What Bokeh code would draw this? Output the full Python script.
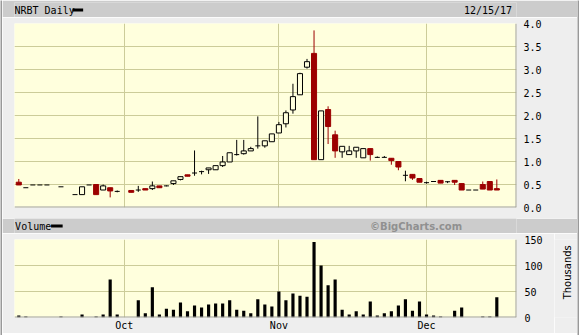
from math import pi
import numpy as np
import pandas as pd
from bokeh.plotting import figure
from bokeh.layouts import column, row
from bokeh.models import Range1d, FixedTicker, PrintfTickFormatter, Span, Label, Grid, ColumnDataSource
from bokeh.embed import file_html
from bokeh.resources import INLINE

# ---------------- data ----------------
chart_title = "NRBT Daily"
end_date_label = "12/15/17"
volume_title = "Volume"
credit = "\u00a9BigCharts.com"
volume_unit = "Thousands"

holidays = ["2017-11-23"]
dates = [d.strftime("%Y-%m-%d") for d in pd.bdate_range("2017-09-11", "2017-12-15")
         if d.strftime("%Y-%m-%d") not in holidays]

opens = [0.55, 0.43, 0.49, 0.49, 0.49, None, 0.45, None, 0.28, 0.28,
         0.49, 0.50, 0.38, 0.43, 0.35, None, 0.37, 0.38, 0.41, 0.41,
         0.47, 0.47, 0.52, 0.61, 0.71, 0.75, 0.78, 0.82, 0.82, 0.91,
         0.99, 1.15, 1.17, 1.23, 1.34, 1.34, 1.43, 1.62, 1.82, 2.12,
         2.45, 3.05, 3.35, 1.04, 2.13, 1.58, 1.21, 1.15, 1.23, 1.08,
         1.28, 1.09, 1.09, 1.07, 1.00, 0.70, 0.72, 0.63, 0.54, 0.565,
         0.59, 0.56, 0.59, 0.52, 0.38, 0.38, 0.50, 0.565, 0.41]
highs = [0.62, 0.43, 0.49, 0.49, 0.49, None, 0.45, None, 0.28, 0.45,
         0.49, 0.50, 0.50, 0.43, 0.37, None, 0.37, 0.47, 0.41, 0.565,
         0.47, 0.48, 0.58, 0.67, 0.71, 1.24, 0.80, 0.86, 0.91, 1.12,
         1.19, 1.47, 1.47, 1.32, 1.98, 1.45, 1.60, 1.86, 2.11, 2.69,
         2.93, 3.23, 3.85, 2.10, 2.20, 1.67, 1.33, 1.34, 1.31, 1.28,
         1.28, 1.11, 1.12, 1.07, 1.00, 0.80, 0.72, 0.63, 0.56, 0.575,
         0.59, 0.57, 0.59, 0.52, 0.38, 0.38, 0.565, 0.565, 0.61]
lows = [0.49, 0.43, 0.49, 0.49, 0.49, None, 0.45, None, 0.28, 0.28,
        0.49, 0.28, 0.38, 0.22, 0.33, None, 0.33, 0.34, 0.38, 0.38,
        0.43, 0.46, 0.49, 0.59, 0.68, 0.69, 0.72, 0.73, 0.82, 0.88,
        0.99, 1.13, 1.15, 1.23, 1.28, 1.30, 1.43, 1.62, 1.74, 2.04,
        2.45, 3.02, 1.04, 1.04, 1.38, 1.08, 1.08, 1.15, 1.08, 1.08,
        1.02, 1.08, 1.09, 0.93, 0.81, 0.57, 0.60, 0.55, 0.52, 0.555,
        0.53, 0.53, 0.49, 0.38, 0.38, 0.38, 0.40, 0.38, 0.38]
closes = [0.49, 0.43, 0.49, 0.49, 0.49, None, 0.45, None, 0.28, 0.45,
          0.49, 0.28, 0.47, 0.36, 0.35, None, 0.33, 0.38, 0.38, 0.47,
          0.43, 0.47, 0.58, 0.67, 0.68, 0.75, 0.78, 0.86, 0.91, 0.99,
          1.19, 1.15, 1.23, 1.28, 1.34, 1.45, 1.60, 1.80, 2.06, 2.41,
          2.91, 3.17, 1.04, 2.10, 1.76, 1.23, 1.33, 1.23, 1.31, 1.28,
          1.15, 1.09, 1.09, 1.02, 0.88, 0.70, 0.64, 0.55, 0.54, 0.565,
          0.53, 0.56, 0.55, 0.38, 0.38, 0.38, 0.40, 0.38, 0.38]
volumes_k = [4, 2, 0, 0, 0, 0, 2, 0, 0, 6,
             0, 2, 6, 73, 6, 0, 0, 33, 8, 58,
             6, 17, 15, 29, 12, 23, 19, 25, 27, 27,
             33, 15, 13, 8, 35, 25, 21, 50, 33, 46,
             42, 40, 145, 100, 62, 73, 15, 6, 12, 6,
             31, 4, 8, 12, 23, 35, 13, 31, 6, 4,
             2, 0, 13, 19, 0, 0, 2, 2, 39]

price_ticks = [0.0, 0.5, 1.0, 1.5, 2.0, 2.5, 3.0, 3.5, 4.0]
volume_ticks = [0, 50, 100, 150]
month_labels = ["Oct", "Nov", "Dec"]

# ---------------- styles ----------------
W = 579
B = 2                    # outer frame thickness
IW = W - 2 * B           # inner width
OUT_BG = "#eeeeee"
BAR_BG = "#cccccc"
FRAME_C = "#999999"
PLOT_BG = "#ffffdd"
GRID_C = "#cccc99"
EDGE_C = "#a0a0a0"
RED = "#9c0000"
MONO = "DejaVu Sans Mono"
SANS = "DejaVu Sans"

n = len(dates)
idx = np.arange(n, dtype=float)
O = np.array(opens, dtype=float)
H = np.array(highs, dtype=float)
L = np.array(lows, dtype=float)
C = np.array(closes, dtype=float)
V = np.array(volumes_k, dtype=float)
valid = ~np.isnan(O)
up = valid & (C > O)
down = valid & (C < O)
flat = valid & (C == O)

month_idx = [i for i in range(1, n) if dates[i][5:7] != dates[i - 1][5:7]]

x_range = Range1d(-0.61, n + 1.8)


def blank(w, h, color):
    f = figure(width=w, height=h, x_range=Range1d(0, 1), y_range=Range1d(0, 1),
               toolbar_location=None, output_backend="svg", title=None,
               x_axis_location=None, y_axis_location=None,
               min_border_left=0, min_border_right=0, min_border_top=0, min_border_bottom=0)
    f.background_fill_color = color
    f.border_fill_color = color
    f.outline_line_color = None
    f.xgrid.visible = False
    f.ygrid.visible = False
    return f


def title_bar(h, top):
    # frame: canvas x 14..577, 15 px tall; whole figure painted as the grey bar
    t = figure(width=IW, height=h, x_range=Range1d(0, 563), y_range=Range1d(15, 0),
               toolbar_location=None, output_backend="svg", title=None,
               x_axis_location=None, y_axis_location=None,
               min_border_left=14 - B, min_border_right=0, min_border_top=top, min_border_bottom=0)
    t.background_fill_color = BAR_BG
    t.border_fill_color = BAR_BG
    t.outline_line_color = None
    t.xgrid.visible = False
    t.ygrid.visible = False
    return t


def panel(w, h, yr, top, bottom, right, with_xaxis):
    f = figure(width=w, height=h, x_range=x_range, y_range=yr,
               toolbar_location=None, output_backend="svg", title=None,
               x_axis_location="below" if with_xaxis else None, y_axis_location="right",
               min_border_left=14 - B, min_border_right=right, min_border_top=top,
               min_border_bottom=bottom)
    f.background_fill_color = PLOT_BG
    f.border_fill_color = OUT_BG
    f.outline_line_color = None
    f.xgrid.visible = False
    f.add_layout(Grid(dimension=0, ticker=FixedTicker(ticks=month_idx), grid_line_color=GRID_C))
    f.ygrid.grid_line_color = GRID_C
    ax = f.yaxis[0]
    ax.axis_line_color = None
    ax.major_tick_line_color = None
    ax.minor_tick_line_color = None
    ax.major_tick_out = 0
    ax.major_tick_in = 0
    ax.major_label_standoff = 7
    ax.major_label_text_font = MONO
    ax.major_label_text_font_size = "10px"
    ax.major_label_text_color = "black"
    f.add_layout(Span(location=0, dimension="width", line_color=EDGE_C, line_width=2))
    f.add_layout(Span(location=x_range.end, dimension="height", line_color=EDGE_C, line_width=2))
    return f


# ---- title bar 1 (y 0..17, grey bar 2..17) ----
t1 = title_bar(17, 2)
t1.add_layout(Label(x=0, y=7.7, text=chart_title, text_baseline="middle",
                    text_font=MONO, text_font_size="10px", text_color="black"))
t1.quad(left=[65], right=[77], top=[6], bottom=[9], fill_color="black", line_color=None)
t1.add_layout(Label(x=558, y=7.7, text=end_date_label, text_baseline="middle", text_align="right",
                    text_font=MONO, text_font_size="10px", text_color="black"))

# ---- price panel (y 17..218, frame 23..207) ----
p = panel(IW, 201, Range1d(0, 4.0), 6, 11, (W - B) - 516, False)
p.yaxis[0].ticker = FixedTicker(ticks=price_ticks)
p.yaxis[0].formatter = PrintfTickFormatter(format="%.1f")

wick_mask = valid & (H > L)
wick_src = ColumnDataSource(dict(x=idx[wick_mask], lo=L[wick_mask], hi=H[wick_mask],
                                 c=np.where(down[wick_mask], RED, "black")))
p.segment(x0="x", y0="lo", x1="x", y1="hi", source=wick_src, line_color="c", line_width=1)

p.vbar(x=idx[up], top=C[up], bottom=O[up], width=0.72,
       fill_color=PLOT_BG, line_color="black", line_width=1)
p.vbar(x=idx[down], top=O[down], bottom=C[down], width=0.72,
       fill_color=RED, line_color=RED, line_width=1)
p.scatter(x=idx[flat], y=C[flat], marker="dash", size=5, line_color="black", line_width=1)

# ---- title bar 2 (y 218..233) ----
t2 = title_bar(15, 0)
t2.add_layout(Label(x=0.7, y=7.8, text=volume_title, text_baseline="middle",
                    text_font=MONO, text_font_size="10px", text_color="black"))
t2.quad(left=[41], right=[54], top=[6], bottom=[9], fill_color="black", line_color=None)
t2.add_layout(Label(x=502, y=7.8, text=credit, text_baseline="middle", text_align="right",
                    text_font=SANS, text_font_size="10px", text_font_style="bold", text_color="#909090"))

# ---- volume panel (y 233..333, frame 239..317) ----
VW = 554 - B
v = panel(VW, 100, Range1d(0, 150), 6, 16, 554 - 516, True)
v.yaxis[0].ticker = FixedTicker(ticks=volume_ticks)
v.yaxis[0].major_label_standoff = 8
xa = v.xaxis[0]
xa.ticker = FixedTicker(ticks=month_idx)
xa.major_label_overrides = {m: lab for m, lab in zip(month_idx, month_labels)}
xa.axis_line_color = None
xa.major_tick_line_color = None
xa.minor_tick_line_color = None
xa.major_tick_out = 0
xa.major_tick_in = 0
xa.major_label_standoff = 2
xa.major_label_text_font = MONO
xa.major_label_text_font_size = "10px"
xa.major_label_text_color = "black"

v.vbar(x=idx, top=V, bottom=0, width=0.45, fill_color="black", line_color=None)

# unit label strip to the right of the volume panel
UW = IW - VW
u = figure(width=UW, height=100, x_range=Range1d(0, UW), y_range=Range1d(0, 100),
           toolbar_location=None, output_backend="svg", title=None,
           x_axis_location=None, y_axis_location=None,
           min_border_left=0, min_border_right=0, min_border_top=0, min_border_bottom=0)
u.background_fill_color = OUT_BG
u.border_fill_color = OUT_BG
u.outline_line_color = None
u.xgrid.visible = False
u.ygrid.visible = False
u.add_layout(Label(x=12.7, y=58, text=volume_unit, angle=pi / 2, text_align="center",
                   text_baseline="middle", text_font=SANS, text_font_size="10px", text_color="black"))

inner = column(t1, p, t2, row(v, u, spacing=0), blank(IW, B, FRAME_C), spacing=0)
layout = row(blank(B, 335, FRAME_C), inner, blank(B, 335, FRAME_C), spacing=0)
open("out.html", "w").write(file_html(layout, INLINE))
